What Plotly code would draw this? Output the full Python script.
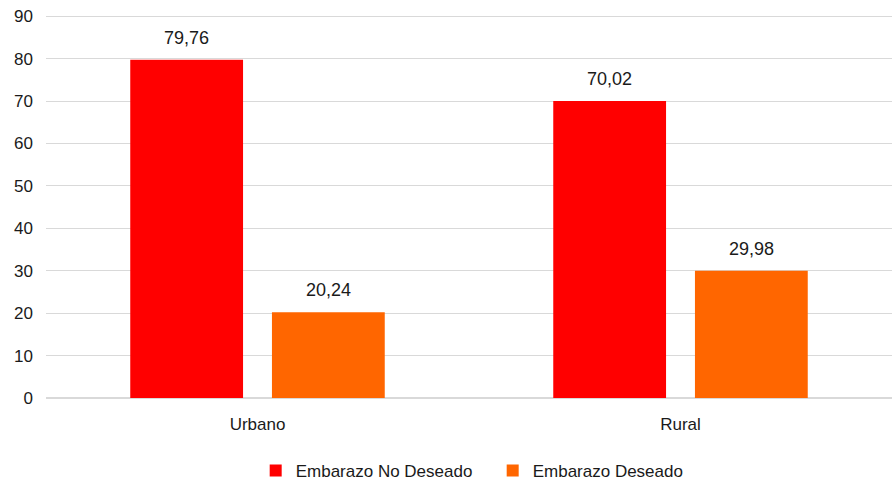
import plotly.graph_objects as go

categories = ["Urbano", "Rural"]
no_deseado = [79.76, 70.02]
deseado = [20.24, 29.98]
series_names = ["Embarazo No Deseado", "Embarazo Deseado"]
y_ticks = [0, 10, 20, 30, 40, 50, 60, 70, 80, 90]

FONT = "Liberation Sans Narrow, Arial Narrow, Liberation Sans, Arial, sans-serif"
TXT = "#1a1a1a"

W, H = 892, 483

fig = go.Figure()
fig.add_trace(go.Bar(x=categories, y=no_deseado, name=series_names[0],
                     marker=dict(color="#ff0000", line=dict(width=0))))
fig.add_trace(go.Bar(x=categories, y=deseado, name=series_names[1],
                     marker=dict(color="#ff6600", line=dict(width=0))))

# value labels above bars
for vals, shift in ((no_deseado, -71), (deseado, 71)):
    for c, v in zip(categories, vals):
        fig.add_annotation(x=c, y=v, xref="x", yref="y", text=f"{v:.2f}".replace(".", ","),
                           showarrow=False, xshift=shift, yshift=22, yanchor="middle",
                           font=dict(size=18, color=TXT, family=FONT))

fig.update_layout(
    width=W, height=H,
    margin=dict(l=46, r=0, t=15, b=85, autoexpand=False),
    paper_bgcolor="white", plot_bgcolor="white",
    separators=",.",
    barmode="group", bargap=0.33, bargroupgap=0.204,
    font=dict(family=FONT, size=17, color=TXT),
    showlegend=True,
    legend=dict(orientation="h", x=0.528, xanchor="center", yref="container", y=12 / H,
                yanchor="middle", font=dict(size=17, family=FONT, color=TXT),
                traceorder="normal", entrywidth=192, entrywidthmode="pixels"),
    xaxis=dict(showgrid=False, showline=False, ticks="", tickfont=dict(size=17),
               automargin=False, ticklabelstandoff=14),
    yaxis=dict(range=[0, 90.3], tickvals=y_ticks, showgrid=True, gridcolor="#d9d9d9",
               gridwidth=1, zeroline=True, zerolinecolor="#d9d9d9", zerolinewidth=1.5,
               showline=False, ticks="", tickfont=dict(size=17), ticklabelstandoff=12,
               automargin=False),
)

fig.write_html("out.html", config={"displayModeBar": False},
               post_script="document.body.style.margin='0';document.body.style.overflow='hidden';")
